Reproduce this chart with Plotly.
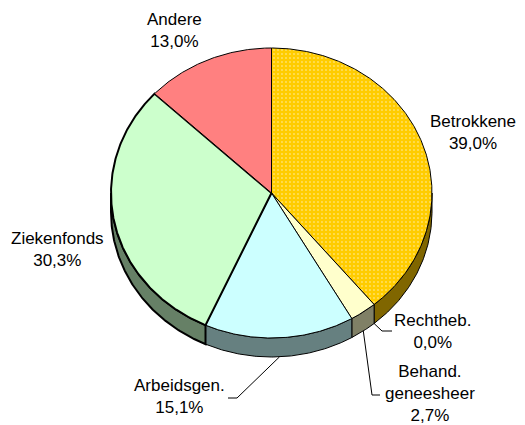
import numpy as np
import plotly.graph_objects as go

# ---- data ----
categories = ["Betrokkene", "Rechtheb.", "Behand.<br>geneesheer", "Arbeidsgen.", "Ziekenfonds", "Andere"]
values = [39.0, 0.0, 2.7, 15.1, 30.3, 13.0]
top_colors = ["#FFCC00", "#FFFFCC", "#FFFFCC", "#CCFFFF", "#CCFFCC", "#FF8080"]
side_colors = ["#806600", "#808066", "#808066", "#668080", "#668066", "#804040"]

# ---- geometry (pixel-like layout units) ----
CX, CY, RX, RY, DEPTH = 271.5, 193.0, 160.5, 145.0, 19.0
FONT = dict(family="Liberation Sans, Arial, sans-serif", size=17, color="#000000")
PAGE_OFFSET = 8  # default body margin of the html page

def pt(theta_deg, dy=0.0):
    t = np.radians(theta_deg)
    return CX + RX * np.sin(t), CY - RY * np.cos(t) + dy

total = sum(values)
starts, ends = [], []
acc = 0.0
for v in values:
    starts.append(acc)
    acc += v / total * 360.0
    ends.append(acc)

fig = go.Figure()

# side walls (visible front half: 90..270 deg clockwise from top)
for i, v in enumerate(values):
    a, b = max(starts[i], 90.0), min(ends[i], 270.0)
    if v <= 0 or b <= a:
        continue
    th = np.linspace(a, b, max(3, int((b - a) * 2)))
    xt, yt = pt(th)
    xb, yb = pt(th[::-1], DEPTH)
    xs = list(xt) + list(xb) + [xt[0]]
    ys = list(yt) + list(yb) + [yt[0]]
    fig.add_trace(go.Scatter(
        x=xs, y=ys, mode="lines", fill="toself",
        fillcolor=side_colors[i],
        line=dict(color="#000000", width=2 if i == 4 else 1),
        hoverinfo="skip", showlegend=False))

# top faces
for i, v in enumerate(values):
    if v <= 0:
        continue
    a, b = starts[i], ends[i]
    th = np.linspace(a, b, max(3, int((b - a) * 2)))
    xa, ya = pt(th)
    xs = [CX] + list(xa) + [CX]
    ys = [CY] + list(ya) + [CY]
    kw = {}
    if i == 0:
        kw["fillpattern"] = dict(shape=".", fgcolor="#FFFFFF", bgcolor=top_colors[i],
                                 size=4, solidity=0.12, fgopacity=0.7)
    fig.add_trace(go.Scatter(
        x=xs, y=ys, mode="lines", fill="toself",
        fillcolor=top_colors[i],
        line=dict(color="#000000", width=2 if i == 4 else 1),
        hoverinfo="skip", showlegend=False, **kw))

# labels
def lab(v):
    return f"{v:.1f}".replace(".", ",") + "%"

label_pos = {
    0: (473, 132),
    1: (433, 331),
    2: (430, 393),
    3: (179, 396),
    4: (57, 249),
    5: (174, 30),
}
for i, (x, y) in label_pos.items():
    fig.add_annotation(x=x, y=y, text=categories[i] + "<br>" + lab(values[i]),
                       showarrow=False, font=FONT, xanchor="center", yanchor="middle",
                       align="center")

# leader lines: start at slice middle on lower rim, elbow, end
leaders = {
    1: ((382, 331), (392, 331)),
    2: ((372, 395), (380, 395)),
    3: ((237, 398), (228, 398)),
}
for i, (elbow, end) in leaders.items():
    mid = (starts[i] + ends[i]) / 2.0
    x0, y0 = pt(mid, DEPTH)
    fig.add_trace(go.Scatter(
        x=[x0, elbow[0], end[0]], y=[y0, elbow[1], end[1]], mode="lines",
        line=dict(color="#000000", width=1), hoverinfo="skip", showlegend=False))

fig.update_layout(
    width=525 - PAGE_OFFSET, height=425 - PAGE_OFFSET, autosize=False,
    margin=dict(l=0, r=0, t=0, b=0),
    paper_bgcolor="#FFFFFF", plot_bgcolor="#FFFFFF",
    xaxis=dict(range=[PAGE_OFFSET, 525], visible=False, fixedrange=True),
    yaxis=dict(range=[425, PAGE_OFFSET], visible=False, fixedrange=True),
    showlegend=False,
)

fig.write_html("out.html")
